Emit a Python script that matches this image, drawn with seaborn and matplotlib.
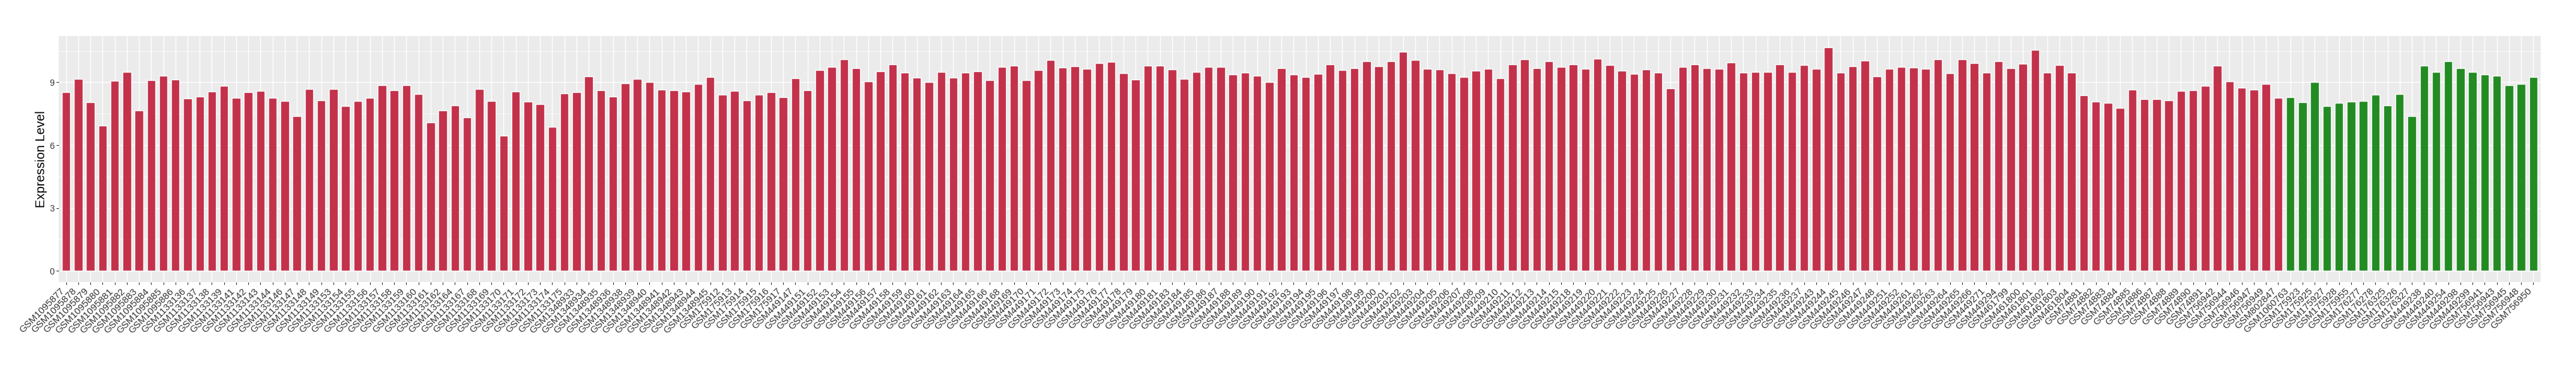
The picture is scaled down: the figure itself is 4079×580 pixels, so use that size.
import pandas as pd
import seaborn as sns
import matplotlib.pyplot as plt
from matplotlib.ticker import MultipleLocator

# Tumour samples (drawn in red)
TUMOR_SAMPLES = [
    "GSM1095877", "GSM1095878", "GSM1095879", "GSM1095880", "GSM1095881",
    "GSM1095882", "GSM1095883", "GSM1095884", "GSM1095885", "GSM1095886",
    "GSM1133136", "GSM1133137", "GSM1133138", "GSM1133139", "GSM1133141",
    "GSM1133142", "GSM1133143", "GSM1133144", "GSM1133146", "GSM1133147",
    "GSM1133148", "GSM1133149", "GSM1133153", "GSM1133154", "GSM1133155",
    "GSM1133156", "GSM1133157", "GSM1133158", "GSM1133159", "GSM1133160",
    "GSM1133161", "GSM1133162", "GSM1133164", "GSM1133167", "GSM1133168",
    "GSM1133169", "GSM1133170", "GSM1133171", "GSM1133172", "GSM1133173",
    "GSM1133174", "GSM1133175", "GSM1348933", "GSM1348934", "GSM1348935",
    "GSM1348936", "GSM1348938", "GSM1348939", "GSM1348940", "GSM1348941",
    "GSM1348942", "GSM1348943", "GSM1348944", "GSM1348945", "GSM175912",
    "GSM175913", "GSM175914", "GSM175915", "GSM175916", "GSM175917",
    "GSM449147", "GSM449151", "GSM449152", "GSM449153", "GSM449154",
    "GSM449155", "GSM449156", "GSM449157", "GSM449158", "GSM449159",
    "GSM449160", "GSM449161", "GSM449162", "GSM449163", "GSM449164",
    "GSM449165", "GSM449166", "GSM449168", "GSM449169", "GSM449170",
    "GSM449171", "GSM449172", "GSM449173", "GSM449174", "GSM449175",
    "GSM449176", "GSM449177", "GSM449178", "GSM449179", "GSM449180",
    "GSM449181", "GSM449183", "GSM449184", "GSM449185", "GSM449186",
    "GSM449187", "GSM449188", "GSM449189", "GSM449190", "GSM449191",
    "GSM449192", "GSM449193", "GSM449194", "GSM449195", "GSM449196",
    "GSM449197", "GSM449198", "GSM449199", "GSM449200", "GSM449201",
    "GSM449202", "GSM449203", "GSM449204", "GSM449205", "GSM449206",
    "GSM449207", "GSM449208", "GSM449209", "GSM449210", "GSM449211",
    "GSM449212", "GSM449213", "GSM449214", "GSM449215", "GSM449218",
    "GSM449219", "GSM449220", "GSM449221", "GSM449222", "GSM449223",
    "GSM449224", "GSM449225", "GSM449226", "GSM449227", "GSM449228",
    "GSM449229", "GSM449230", "GSM449231", "GSM449232", "GSM449233",
    "GSM449234", "GSM449235", "GSM449236", "GSM449237", "GSM449243",
    "GSM449244", "GSM449245", "GSM449246", "GSM449247", "GSM449248",
    "GSM449251", "GSM449252", "GSM449261", "GSM449262", "GSM449263",
    "GSM449264", "GSM449265", "GSM449266", "GSM449271", "GSM449294",
    "GSM461799", "GSM461800", "GSM461801", "GSM461802", "GSM461803",
    "GSM461804", "GSM74881", "GSM74882", "GSM74883", "GSM74884",
    "GSM74885", "GSM74886", "GSM74887", "GSM74888", "GSM74889",
    "GSM74890", "GSM74891", "GSM756942", "GSM756944", "GSM756946",
    "GSM756947", "GSM756949", "GSM802847",
]
TUMOR_VALUES = [
    8.54, 9.17, 8.06, 6.95, 9.09, 9.51, 7.67, 9.11, 9.32, 9.14,
    8.24, 8.33, 8.57, 8.84, 8.27, 8.54, 8.58, 8.27, 8.12, 7.40,
    8.67, 8.15, 8.67, 7.88, 8.12, 8.27, 8.85, 8.61, 8.85, 8.43,
    7.10, 7.67, 7.91, 7.34, 8.67, 8.12, 6.44, 8.55, 8.09, 7.97,
    6.89, 8.46, 8.52, 9.30, 8.61, 8.33, 8.94, 9.18, 9.00, 8.64,
    8.61, 8.55, 8.91, 9.27, 8.40, 8.58, 8.15, 8.40, 8.52, 8.30,
    9.21, 8.61, 9.60, 9.75, 10.11, 9.69, 9.06, 9.54, 9.87, 9.48,
    9.24, 9.03, 9.51, 9.24, 9.48, 9.54, 9.12, 9.75, 9.81, 9.12,
    9.60, 10.08, 9.72, 9.78, 9.66, 9.93, 9.99, 9.45, 9.15, 9.81,
    9.81, 9.63, 9.18, 9.51, 9.75, 9.75, 9.39, 9.48, 9.33, 9.00,
    9.69, 9.39, 9.27, 9.42, 9.87, 9.60, 9.69, 10.02, 9.78, 10.02,
    10.47, 10.08, 9.66, 9.63, 9.45, 9.27, 9.57, 9.66, 9.21, 9.87,
    10.11, 9.69, 10.02, 9.75, 9.87, 9.66, 10.14, 9.84, 9.57, 9.42,
    9.63, 9.48, 8.70, 9.75, 9.87, 9.69, 9.66, 9.96, 9.48, 9.51,
    9.51, 9.87, 9.51, 9.84, 9.66, 10.68, 9.48, 9.78, 10.05, 9.30,
    9.66, 9.75, 9.72, 9.66, 10.11, 9.45, 10.11, 9.93, 9.48, 10.02,
    9.69, 9.90, 10.56, 9.48, 9.84, 9.48, 8.37, 8.09, 8.03, 7.79,
    8.64, 8.21, 8.21, 8.15, 8.58, 8.61, 8.82, 9.81, 9.06, 8.73,
    8.64, 8.91, 8.27,
]

# Normal samples (drawn in green)
NORMAL_SAMPLES = [
    "GSM1060763", "GSM175923", "GSM175925", "GSM175927", "GSM175928",
    "GSM175955", "GSM176277", "GSM176278", "GSM176325", "GSM176326",
    "GSM176327", "GSM449238", "GSM449240", "GSM449254", "GSM449298",
    "GSM449299", "GSM756941", "GSM756943", "GSM756945", "GSM756948",
    "GSM756950",
]
NORMAL_VALUES = [
    8.30, 8.06, 9.03, 7.88, 8.03, 8.09, 8.12, 8.40, 7.91, 8.43,
    7.40, 9.81, 9.49, 10.00, 9.67, 9.49, 9.37, 9.31, 8.85, 8.91,
    9.25,
]

GROUP_COLORS = {"Tumor": "#C3314A", "Normal": "#228B22"}
TEXT_COLOR = "#333333"

df = pd.DataFrame({
    "sample": TUMOR_SAMPLES + NORMAL_SAMPLES,
    "expression": TUMOR_VALUES + NORMAL_VALUES,
    "group": ["Tumor"] * len(TUMOR_SAMPLES) + ["Normal"] * len(NORMAL_SAMPLES),
})

sns.set_style("darkgrid", {"axes.facecolor": "#EBEBEB", "grid.color": "white"})
plt.rcParams["font.family"] = ["Liberation Sans", "DejaVu Sans"]

W, H = 4080, 580
fig = plt.figure(figsize=(W / 100, H / 100), dpi=100)
ax = fig.add_axes([93 / W, 1 - 447 / H, (4023 - 93) / W, (447 - 57) / H])

sns.barplot(
    data=df, x="sample", y="expression", hue="group",
    palette=GROUP_COLORS, dodge=False, width=0.7, saturation=1,
    errorbar=None, legend=False, ax=ax,
)

# ggplot-like limits: 5% expansion on y, 0.6 bar on each side for x
ymax = df["expression"].max()
ax.set_ylim(-0.05 * ymax, 1.05 * ymax)
ax.set_xlim(-0.6, len(df) - 0.4)
ax.yaxis.set_major_locator(MultipleLocator(3))
ax.yaxis.set_minor_locator(MultipleLocator(1.5))

ax.grid(which="major", color="white", linewidth=1.0)
ax.grid(which="minor", axis="y", color="white", linewidth=0.5)
ax.set_axisbelow(True)
for side in ax.spines.values():
    side.set_visible(False)

ax.tick_params(
    axis="both", which="major", bottom=True, left=True, length=3.2, width=0.8,
    color=TEXT_COLOR, labelcolor=TEXT_COLOR, pad=2,
)
ax.tick_params(axis="y", which="major", labelsize=10)
ax.tick_params(axis="x", which="major", labelsize=11)
ax.tick_params(axis="y", which="minor", left=False)
plt.setp(ax.get_xticklabels(), rotation=45, ha="right")

ax.set_xlabel("")
ax.set_ylabel("Expression Level", fontsize=14.5, color="black", labelpad=2)

fig.savefig("out.png", dpi=100)
